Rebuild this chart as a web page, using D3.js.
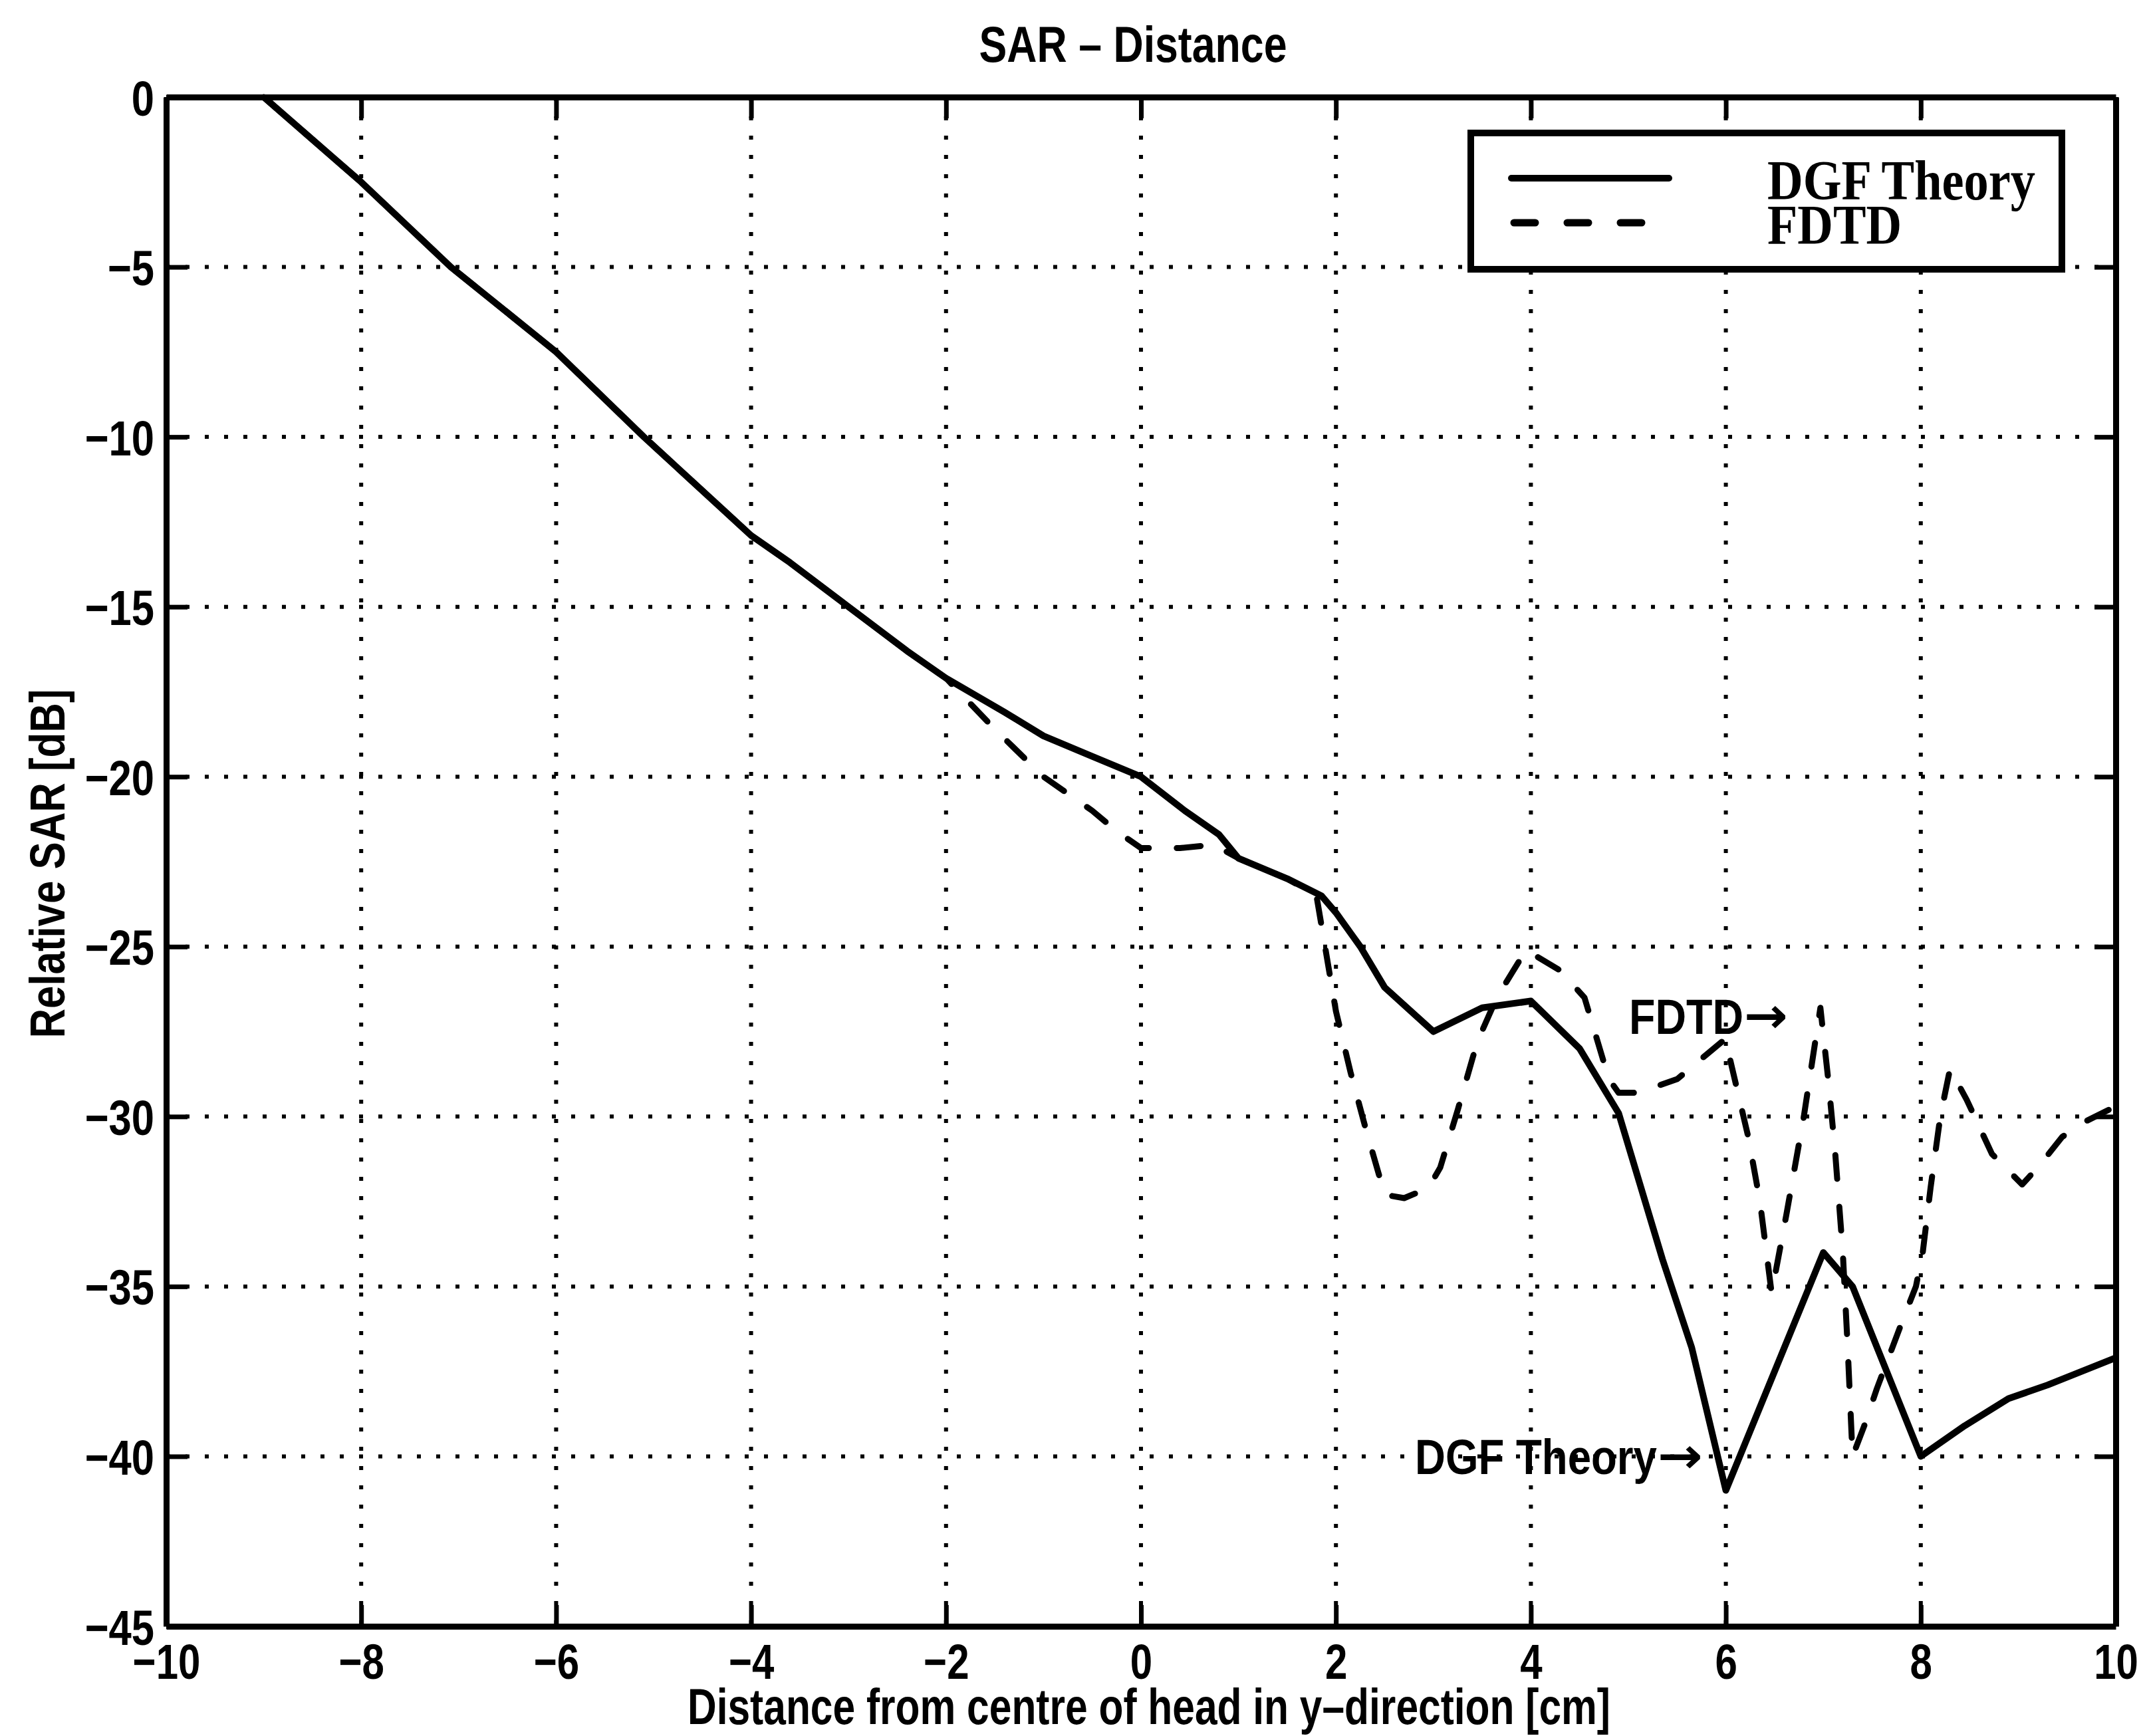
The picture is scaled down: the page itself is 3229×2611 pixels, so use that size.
<!DOCTYPE html>
<html>
<head>
<meta charset="utf-8">
<script src="https://cdn.jsdelivr.net/npm/d3@7"></script>
<style>
  html, body { margin: 0; padding: 0; background: #fff; }
  svg { display: block; }
  text { font-family: "Liberation Sans", Arial, Helvetica, sans-serif; font-weight: bold; fill: #000; }
  .serif { font-family: "Liberation Serif", "Times New Roman", serif; font-weight: bold; }
  .arrow { font-family: "DejaVu Sans", sans-serif; font-weight: bold; }
</style>
</head>
<body>
<script>
// Relative SAR along the y-direction through the head: DGF theory vs FDTD
const dgfX = [-9.0, -8, -7.08, -6, -5.1, -4, -3.6, -3, -2.4, -2, -1.4, -1, -0.5, 0, 0.45, 0.8, 1.0, 1.5, 1.85, 2.0, 2.25, 2.5, 3.0, 3.5, 4.0, 4.5, 4.9, 5.35, 5.65, 6.0, 7.0, 7.3, 7.65, 8.0, 8.45, 8.9, 9.3, 10];
const dgfY = [0, -2.5, -5, -7.5, -10, -12.9, -13.7, -15.0, -16.3, -17.1, -18.1, -18.8, -19.4, -20.0, -21.0, -21.7, -22.4, -23.0, -23.5, -24.0, -25.0, -26.2, -27.5, -26.8, -26.6, -28.0, -29.9, -34.2, -36.8, -41.0, -34.0, -35.0, -37.5, -40.0, -39.1, -38.3, -37.9, -37.1];

const fdtdX = [-9.0, -8, -7.08, -6, -5.1, -4, -3.6, -3, -2.4, -2, -1.5, -1.0, -0.5, -0.25, 0, 0.4, 0.75, 1.0, 1.5, 1.8, 2.0, 2.15, 2.3, 2.5, 2.7, 2.95, 3.07, 3.25, 3.45, 3.65, 3.8, 3.95, 4.3, 4.55, 4.8, 4.9, 5.1, 5.5, 5.75, 6.0, 6.05, 6.23, 6.35, 6.47, 6.62, 6.8, 6.97, 7.05, 7.12, 7.2, 7.25, 7.3, 7.42, 7.55, 7.8, 7.95, 8.02, 8.1, 8.2, 8.3, 8.47, 8.73, 9.04, 9.2, 9.45, 9.65, 10];
const fdtdY = [0, -2.5, -5, -7.5, -10, -12.9, -13.7, -15.0, -16.3, -17.1, -18.6, -20.0, -21.0, -21.6, -22.1, -22.1, -22.0, -22.4, -23.0, -23.5, -26.9, -28.7, -30.3, -32.3, -32.4, -32.1, -31.5, -29.8, -27.8, -26.5, -25.8, -25.1, -25.7, -26.5, -28.9, -29.3, -29.3, -28.9, -28.3, -27.7, -28.4, -30.6, -32.5, -35.2, -32.9, -30.0, -26.8, -28.9, -31.0, -34.0, -36.8, -40.0, -39.1, -38.0, -36.1, -35.0, -34.0, -32.1, -30.0, -28.6, -29.5, -31.1, -32.0, -31.5, -30.6, -30.2, -29.7];

const xTicks = [-10, -8, -6, -4, -2, 0, 2, 4, 6, 8, 10];
const xTickLabels = ["\u221210", "\u22128", "\u22126", "\u22124", "\u22122", "0", "2", "4", "6", "8", "10"];
const yTicks = [0, -5, -10, -15, -20, -25, -30, -35, -40, -45];
const yTickLabels = ["0", "\u22125", "\u221210", "\u221215", "\u221220", "\u221225", "\u221230", "\u221235", "\u221240", "\u221245"];

const seriesNames = ["DGF Theory", "FDTD"];
const titleText = "SAR \u2013 Distance";
const xLabelText = "Distance from centre of head in y\u2013direction [cm]";
const yLabelText = "Relative SAR [dB]";

const W = 3229, H = 2611;
const m = { left: 250, right: 3182, top: 146, bottom: 2446 };

const svg = d3.select("body").append("svg").attr("width", W).attr("height", H);
svg.append("rect").attr("width", W).attr("height", H).attr("fill", "#fff");

const x = d3.scaleLinear().domain([-10, 10]).range([m.left, m.right]);
const y = d3.scaleLinear().domain([-45, 0]).range([m.bottom, m.top]);

// narrow the Helvetica-like glyphs to the condensed look of the plot lettering
function squeeze(sel, k) {
  sel.each(function () {
    const w = this.getComputedTextLength();
    d3.select(this).attr("textLength", w * k).attr("lengthAdjust", "spacingAndGlyphs");
  });
}

// dotted grid
const grid = svg.append("g").attr("stroke", "#000").attr("stroke-width", 6).attr("stroke-dasharray", "6 23");
grid.selectAll(".gx").data(xTicks.slice(1, -1)).join("line")
  .attr("x1", d => x(d)).attr("x2", d => x(d)).attr("y1", m.top).attr("y2", m.bottom);
grid.selectAll(".gy").data(yTicks.slice(1, -1)).join("line")
  .attr("x1", m.left).attr("x2", m.right).attr("y1", d => y(d)).attr("y2", d => y(d));

// curves
const line = d3.line().x(d => x(d[0])).y(d => y(d[1]));
const dgf = d3.zip(dgfX, dgfY);
const fdtd = d3.zip(fdtdX, fdtdY);

svg.append("path").datum(fdtd).attr("d", line)
  .attr("fill", "none").attr("stroke", "#000").attr("stroke-width", 9)
  .attr("stroke-linecap", "round").attr("stroke-linejoin", "round")
  .attr("stroke-dasharray", "36 42");
svg.append("path").datum(dgf).attr("d", line)
  .attr("fill", "none").attr("stroke", "#000").attr("stroke-width", 10)
  .attr("stroke-linejoin", "round");

// axes with inward ticks on all four sides
function styleAxis(g) {
  g.select(".domain").attr("stroke", "#000").attr("stroke-width", 9);
  g.selectAll(".tick line").attr("stroke", "#000").attr("stroke-width", 7);
  g.selectAll("text").style("font-size", "75px").attr("fill", "#000")
    .style("font-family", '"Liberation Sans", Arial, sans-serif').style("font-weight", "bold");
}

const gx = svg.append("g").attr("transform", `translate(0,${m.bottom})`)
  .call(d3.axisBottom(x).tickValues(xTicks).tickFormat((d, i) => xTickLabels[i])
    .tickSize(-32).tickSizeOuter(0).tickPadding(26));
styleAxis(gx);
gx.selectAll("text").attr("dy", "0.71em");
squeeze(gx.selectAll("text"), 0.8);

const gy = svg.append("g").attr("transform", `translate(${m.left},0)`)
  .call(d3.axisLeft(y).tickValues(yTicks).tickFormat((d, i) => yTickLabels[i])
    .tickSize(-32).tickSizeOuter(0).tickPadding(18));
styleAxis(gy);
gy.selectAll("text").attr("dy", "0.36em");
squeeze(gy.selectAll("text"), 0.82);

const gt = svg.append("g").attr("transform", `translate(0,${m.top})`)
  .call(d3.axisTop(x).tickValues(xTicks).tickFormat("").tickSize(-32).tickSizeOuter(0));
styleAxis(gt);
const gr = svg.append("g").attr("transform", `translate(${m.right},0)`)
  .call(d3.axisRight(y).tickValues(yTicks).tickFormat("").tickSize(-32).tickSizeOuter(0));
styleAxis(gr);

// title and axis labels
svg.append("text").attr("x", 1704).attr("y", 93).attr("text-anchor", "middle")
  .style("font-size", "76px").text(titleText).attr("textLength", 463).attr("lengthAdjust", "spacingAndGlyphs");
svg.append("text").attr("x", 1728).attr("y", 2593).attr("text-anchor", "middle")
  .style("font-size", "76px").text(xLabelText).attr("textLength", 1388).attr("lengthAdjust", "spacingAndGlyphs");
svg.append("text").attr("transform", "translate(97,1299) rotate(-90)").attr("text-anchor", "middle")
  .style("font-size", "75px").text(yLabelText).attr("textLength", 525).attr("lengthAdjust", "spacingAndGlyphs");

// legend
const leg = svg.append("g");
leg.append("rect").attr("x", 2212).attr("y", 200).attr("width", 889).attr("height", 205)
  .attr("fill", "#fff").attr("stroke", "#000").attr("stroke-width", 10);
leg.append("line").attr("x1", 2273).attr("x2", 2510).attr("y1", 268).attr("y2", 268)
  .attr("stroke", "#000").attr("stroke-width", 10).attr("stroke-linecap", "round");
leg.append("line").attr("x1", 2277).attr("x2", 2471).attr("y1", 335).attr("y2", 335)
  .attr("stroke", "#000").attr("stroke-width", 11).attr("stroke-linecap", "round")
  .attr("stroke-dasharray", "32 48");
leg.append("text").attr("class", "serif").attr("x", 2658).attr("y", 300)
  .style("font-size", "84px").text(seriesNames[0]).attr("textLength", 403).attr("lengthAdjust", "spacingAndGlyphs");
leg.append("text").attr("class", "serif").attr("x", 2658).attr("y", 367)
  .style("font-size", "84px").text(seriesNames[1]).attr("textLength", 202).attr("lengthAdjust", "spacingAndGlyphs");

// in-plot annotations: a label followed by a long arrow
function pointer(x0, yBase, label, labelWidth, arrowWidth) {
  svg.append("text").attr("x", x0).attr("y", yBase).style("font-size", "74px")
    .text(label).attr("textLength", labelWidth).attr("lengthAdjust", "spacingAndGlyphs");
  svg.append("text").attr("class", "arrow").attr("x", x0 + labelWidth + 1).attr("y", yBase - 2)
    .style("font-size", "74px").text("\u2192")
    .attr("textLength", arrowWidth).attr("lengthAdjust", "spacingAndGlyphs");
}
pointer(2450, 1555, seriesNames[1], 172, 66);
pointer(2128, 2217, seriesNames[0], 364, 68);
</script>
</body>
</html>
